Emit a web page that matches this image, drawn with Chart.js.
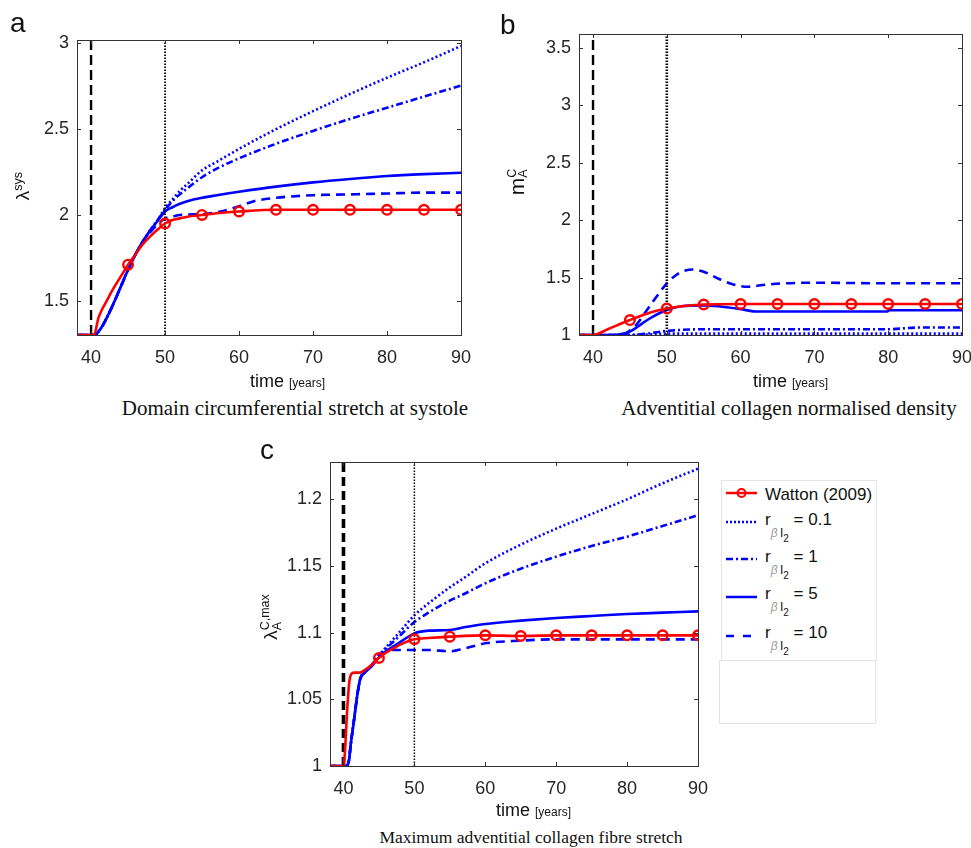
<!DOCTYPE html>
<html>
<head>
<meta charset="utf-8">
<script src="https://cdn.jsdelivr.net/npm/chart.js@4.4.1/dist/chart.umd.min.js"></script>
<style>
html,body{margin:0;padding:0;background:#fff;}
body{width:971px;height:848px;position:relative;overflow:hidden;font-family:"Liberation Sans",Arial,Helvetica,sans-serif;color:#111;}
canvas{position:absolute;}
.t{position:absolute;white-space:nowrap;line-height:1;}
.cap{font-family:"Liberation Serif","Times New Roman",serif;color:#111;text-align:center;width:500px;}
.rot{transform:translate(-50%,-50%) rotate(-90deg);transform-origin:50% 50%;}
.yrs{font-size:12px;}
.ss{display:inline-block;vertical-align:middle;line-height:0.95;font-size:12.5px;text-align:left;}
.ss span{display:block;}
.lg{position:absolute;white-space:nowrap;line-height:1;font-size:17px;color:#111;}
.sb{font-size:12px;vertical-align:-12px;}
.sb2{font-size:10px;vertical-align:-5px;}
.beta{color:#9a9a9a;font-style:italic;}
svg{position:absolute;}
</style>
</head>
<body>
<canvas id="ca" width="480" height="375" style="left:0;top:0"></canvas>
<canvas id="cb" width="481" height="375" style="left:490px;top:0"></canvas>
<canvas id="cc" width="460" height="386" style="left:250px;top:420px"></canvas>

<!-- panel letters -->
<div class="t" style="left:10px;top:9px;font-size:28px;">a</div>
<div class="t" style="left:500px;top:11px;font-size:28px;">b</div>
<div class="t" style="left:260px;top:436px;font-size:28px;">c</div>

<!-- y axis titles -->
<div class="t rot" style="left:22px;top:186px;font-size:19px;">λ<span style="font-size:12.5px;vertical-align:7px;">sys</span></div>
<div class="t rot" style="left:518px;top:182px;font-size:21px;">m<span class="ss"><span>C</span><span>A</span></span></div>
<div class="t rot" style="left:272px;top:617px;font-size:19px;">λ<span class="ss"><span>C,max</span><span>A</span></span></div>

<!-- x axis titles -->
<div class="t" style="left:250px;top:372px;font-size:18px;">time <span class="yrs">[years]</span></div>
<div class="t" style="left:753px;top:372px;font-size:18px;">time <span class="yrs">[years]</span></div>
<div class="t" style="left:496px;top:801px;font-size:18px;">time <span class="yrs">[years]</span></div>

<!-- captions -->
<div class="t cap" style="left:45px;top:398px;font-size:21px;">Domain circumferential stretch at systole</div>
<div class="t cap" style="left:539px;top:398px;font-size:21px;">Adventitial collagen normalised density</div>
<div class="t cap" style="left:281px;top:829px;font-size:17.5px;">Maximum adventitial collagen fibre stretch</div>

<!-- legend (panel c) -->
<div style="position:absolute;left:721px;top:480px;width:154px;height:179px;border:1px solid #e2e6e6;"></div>
<div style="position:absolute;left:719px;top:660px;width:155px;height:62px;border:1px solid #e2e6e6;"></div>
<svg style="left:726px;top:485px" width="32" height="16"><line x1="0" y1="8" x2="31" y2="8" stroke="#ff0000" stroke-width="2.5"/><circle cx="15.5" cy="8" r="4" fill="none" stroke="#ff0000" stroke-width="2"/></svg>
<svg style="left:726px;top:514px" width="32" height="16"><line x1="0" y1="8" x2="31" y2="8" stroke="#0000ff" stroke-width="2.5" stroke-dasharray="2 2"/></svg>
<svg style="left:726px;top:551px" width="32" height="16"><line x1="0" y1="8" x2="31" y2="8" stroke="#0000ff" stroke-width="2.5" stroke-dasharray="7 3 2 3"/></svg>
<svg style="left:726px;top:589px" width="32" height="16"><line x1="0" y1="8" x2="31" y2="8" stroke="#0000ff" stroke-width="2.5"/></svg>
<svg style="left:726px;top:628px" width="32" height="16"><line x1="0" y1="8" x2="25" y2="8" stroke="#0000ff" stroke-width="2.5" stroke-dasharray="8 9"/></svg>
<div class="lg" style="left:765px;top:486px;">Watton (2009)</div>
<div class="lg" style="left:765px;top:511px;">r<span class="sb"><span class="beta">β</span>&thinsp;I<span class="sb2">2</span></span> = 0.1</div>
<div class="lg" style="left:765px;top:548px;">r<span class="sb"><span class="beta">β</span>&thinsp;I<span class="sb2">2</span></span> = 1</div>
<div class="lg" style="left:765px;top:585px;">r<span class="sb"><span class="beta">β</span>&thinsp;I<span class="sb2">2</span></span> = 5</div>
<div class="lg" style="left:765px;top:624px;">r<span class="sb"><span class="beta">β</span>&thinsp;I<span class="sb2">2</span></span> = 10</div>

<script>
// ---------- shared axes ----------
const xTicks = [40, 50, 60, 70, 80, 90];
const xRange = [38.1, 90];
const markerYears = [45, 50, 55, 60, 65, 70, 75, 80, 85, 90];
const eventYears = [40, 50];

// ---------- panel a: domain circumferential stretch at systole ----------
const aYTicks = [1.5, 2, 2.5, 3];
const aYRange = [1.3, 3.02];
const aWattonT = [38, 40, 40.4, 41, 41.5, 42, 43, 44, 45, 46, 47, 48, 49, 50, 51, 52, 53, 55, 57, 60, 65, 70, 75, 80, 85, 90];
const aWattonV = [1.3, 1.3, 1.3, 1.40, 1.45, 1.49, 1.57, 1.64, 1.71, 1.77, 1.83, 1.875, 1.915, 1.95, 1.97, 1.98, 1.99, 2.0, 2.01, 2.02, 2.03, 2.03, 2.03, 2.03, 2.03, 2.03];
const aR01T = [38, 40.5, 41, 41.5, 42, 43, 44, 45, 46, 47, 48, 49, 50, 51, 52, 53, 55, 57, 60, 65, 70, 75, 80, 85, 90];
const aR01V = [1.3, 1.3, 1.32, 1.35, 1.39, 1.48, 1.58, 1.68, 1.77, 1.845, 1.91, 1.97, 2.04, 2.09, 2.14, 2.18, 2.26, 2.31, 2.385, 2.50, 2.605, 2.705, 2.80, 2.89, 2.985];
const aR1T = [38, 40.5, 41, 41.5, 42, 43, 44, 45, 46, 47, 48, 49, 50, 51, 52, 53, 55, 57, 60, 65, 70, 75, 80, 85, 90];
const aR1V = [1.3, 1.3, 1.32, 1.35, 1.39, 1.48, 1.58, 1.68, 1.77, 1.845, 1.91, 1.97, 2.03, 2.08, 2.12, 2.155, 2.22, 2.27, 2.33, 2.415, 2.49, 2.56, 2.625, 2.69, 2.754];
const aR5T = [38, 40.5, 41, 41.5, 42, 43, 44, 45, 46, 47, 48, 49, 50, 51, 52, 53, 55, 57, 60, 65, 70, 75, 80, 85, 90];
const aR5V = [1.3, 1.3, 1.32, 1.35, 1.39, 1.48, 1.58, 1.68, 1.77, 1.845, 1.91, 1.965, 2.02, 2.045, 2.065, 2.08, 2.10, 2.115, 2.135, 2.165, 2.19, 2.21, 2.227, 2.238, 2.246];
const aR10T = [38, 40.5, 41, 41.5, 42, 43, 44, 45, 46, 47, 48, 49, 50, 51, 52, 55, 57, 60, 62, 65, 70, 75, 80, 85, 90];
const aR10V = [1.3, 1.3, 1.32, 1.35, 1.39, 1.48, 1.58, 1.68, 1.77, 1.845, 1.9, 1.945, 1.98, 1.99, 2.0, 2.005, 2.015, 2.05, 2.08, 2.10, 2.115, 2.12, 2.125, 2.13, 2.13];

// ---------- panel b: adventitial collagen normalised density ----------
const bYTicks = [1, 1.5, 2, 2.5, 3, 3.5];
const bYRange = [1, 3.62];
const bWattonT = [38, 40, 42, 44, 45, 46, 48, 50, 52, 55, 60, 65, 70, 75, 80, 85, 90];
const bWattonV = [1, 1, 1.05, 1.105, 1.13, 1.155, 1.2, 1.23, 1.25, 1.265, 1.27, 1.27, 1.27, 1.27, 1.27, 1.27, 1.27];
const bR01T = [38, 45, 48, 50, 90];
const bR01V = [1, 1, 1.006, 1.012, 1.012];
const bR1T = [38, 45, 47, 50, 55, 80, 84, 90];
const bR1V = [1, 1, 1.01, 1.035, 1.05, 1.05, 1.065, 1.065];
const bR5T = [38, 43, 44, 45, 46, 47, 48, 50, 52, 55, 57, 60, 62, 70, 79.9, 80.1, 90];
const bR5V = [1, 1, 1.01, 1.03, 1.07, 1.115, 1.155, 1.217, 1.25, 1.258, 1.25, 1.225, 1.205, 1.205, 1.205, 1.215, 1.215];
const bR10T = [38, 44, 45, 46, 47, 48, 50, 51, 52, 53.5, 55, 57, 59, 61, 63, 66, 70, 80, 90];
const bR10V = [1, 1, 1.04, 1.1, 1.19, 1.28, 1.45, 1.51, 1.55, 1.57, 1.55, 1.49, 1.44, 1.42, 1.435, 1.45, 1.455, 1.45, 1.45];

// ---------- panel c: maximum adventitial collagen fibre stretch ----------
const cYTicks = [1, 1.05, 1.1, 1.15, 1.2];
const cYRange = [1, 1.228];
const cWattonT = [38, 40, 40.2, 40.5, 40.8, 41.1, 41.5, 42.3, 43, 44, 45, 46, 47, 48, 50, 52, 55, 60, 65, 70, 75, 80, 85, 90];
const cWattonV = [1, 1, 1.01, 1.04, 1.062, 1.069, 1.07, 1.07, 1.072, 1.076, 1.081, 1.085, 1.088, 1.091, 1.095, 1.096, 1.097, 1.098, 1.0975, 1.098, 1.098, 1.098, 1.098, 1.098];
const cR01T = [38, 40.4, 40.8, 41, 41.5, 42, 42.4, 43, 44, 45, 46, 47, 48, 50, 52, 55, 57, 60, 65, 70, 75, 80, 85, 90];
const cR01V = [1, 1, 1.005, 1.015, 1.035, 1.055, 1.066, 1.07, 1.076, 1.083, 1.089, 1.095, 1.101, 1.113, 1.122, 1.134, 1.141, 1.152, 1.166, 1.178, 1.189, 1.2, 1.212, 1.223];
const cR1T = [38, 40.4, 40.8, 41, 41.5, 42, 42.4, 43, 44, 45, 46, 47, 48, 50, 52, 55, 57, 60, 65, 70, 75, 80, 85, 90];
const cR1V = [1, 1, 1.005, 1.015, 1.035, 1.055, 1.066, 1.07, 1.076, 1.083, 1.088, 1.093, 1.098, 1.108, 1.115, 1.124, 1.129, 1.137, 1.148, 1.157, 1.165, 1.172, 1.18, 1.188];
const cR5T = [38, 40.4, 40.8, 41, 41.5, 42, 42.4, 43, 44, 45, 46, 47, 48, 50, 52, 55, 57, 60, 65, 70, 75, 80, 85, 90];
const cR5V = [1, 1, 1.005, 1.015, 1.035, 1.055, 1.066, 1.07, 1.075, 1.0815, 1.086, 1.0895, 1.093, 1.0995, 1.1015, 1.102, 1.104, 1.1065, 1.109, 1.111, 1.1125, 1.114, 1.115, 1.116];
const cR10T = [38, 40.4, 40.8, 41, 41.5, 42, 42.4, 43, 44, 45, 46, 47, 50, 52, 55, 57, 60, 65, 70, 80, 90];
const cR10V = [1, 1, 1.005, 1.015, 1.035, 1.055, 1.066, 1.07, 1.076, 1.0815, 1.086, 1.087, 1.087, 1.087, 1.086, 1.088, 1.092, 1.094, 1.095, 1.095, 1.095];

// ---------- helpers ----------
const RED = '#ff0000', BLUE = '#0000ff', BLACK = '#000000';
const pts = (t, v) => t.map((x, i) => ({x: x, y: v[i]}));
const vline = (xv, yr) => [{x: xv, y: yr[0]}, {x: xv, y: yr[1]}];

function wattonDs(t, v) {
  return {data: pts(t, v), borderColor: RED, borderWidth: 2.6,
    pointRadius: c => (c.raw && markerYears.includes(c.raw.x)) ? 4.8 : 0,
    pointBorderColor: RED, pointBackgroundColor: 'rgba(0,0,0,0)', pointBorderWidth: 2.4,
    pointHoverRadius: 0, cubicInterpolationMode: 'monotone'};
}
function blueDs(t, v, dash) {
  return {data: pts(t, v), borderColor: BLUE, borderWidth: 2.6, borderDash: dash,
    pointRadius: 0, cubicInterpolationMode: 'monotone'};
}
function eventDs(i, yr, w, dash) {
  return {data: vline(eventYears[i], yr), borderColor: BLACK, borderWidth: w, borderDash: dash, pointRadius: 0};
}

const framePlugin = {
  id: 'frame',
  afterDatasetsDraw(chart) {
    const {ctx, chartArea: a, scales: {x, y}} = chart;
    ctx.save();
    ctx.strokeStyle = '#333333';
    ctx.lineWidth = 1;
    ctx.setLineDash([]);
    const L = 4;
    ctx.beginPath();
    x.ticks.forEach(t => { const p = Math.round(x.getPixelForValue(t.value)) + 0.5;
      ctx.moveTo(p, a.bottom); ctx.lineTo(p, a.bottom - L); ctx.moveTo(p, a.top); ctx.lineTo(p, a.top + L); });
    y.ticks.forEach(t => { const p = Math.round(y.getPixelForValue(t.value)) + 0.5;
      ctx.moveTo(a.left, p); ctx.lineTo(a.left + L, p); ctx.moveTo(a.right, p); ctx.lineTo(a.right - L, p); });
    ctx.stroke();
    ctx.strokeRect(Math.round(a.left) + 0.5, Math.round(a.top) + 0.5, Math.round(a.right - a.left), Math.round(a.bottom - a.top));
    ctx.restore();
  }
};

const tickFont = {family: '"Liberation Sans", Arial, sans-serif', size: 18};

function makeChart(id, datasets, yTicks, yRange, yWidth, pad) {
  return new Chart(document.getElementById(id), {
    type: 'line',
    data: {datasets: datasets},
    options: {
      responsive: false, animation: false, devicePixelRatio: 1,
      layout: {padding: pad},
      plugins: {legend: {display: false}, tooltip: {enabled: false}},
      elements: {line: {borderCapStyle: 'butt', fill: false}},
      scales: {
        x: {type: 'linear', min: xRange[0], max: xRange[1],
          afterBuildTicks: s => { s.ticks = xTicks.map(v => ({value: v})); },
          afterFit: s => { s.height = 40; s.paddingLeft = 0; s.paddingRight = 0; },
          grid: {display: false, drawTicks: false}, border: {display: false},
          ticks: {padding: 12, font: tickFont, color: '#262626', autoSkip: false, maxRotation: 0, callback: v => String(v)}},
        y: {type: 'linear', min: yRange[0], max: yRange[1],
          afterBuildTicks: s => { s.ticks = yTicks.map(v => ({value: v})); },
          afterFit: s => { s.width = yWidth; s.paddingTop = 0; s.paddingBottom = 0; },
          grid: {display: false, drawTicks: false}, border: {display: false},
          ticks: {padding: 8, font: tickFont, color: '#262626', autoSkip: false, callback: v => String(v)}}
      }
    },
    plugins: [framePlugin]
  });
}

makeChart('ca', [
  wattonDs(aWattonT, aWattonV),
  eventDs(0, aYRange, 2.4, [10, 5]),
  eventDs(1, aYRange, 1.8, [1.5, 1.5]),
  blueDs(aR01T, aR01V, [2, 2.5]),
  blueDs(aR1T, aR1V, [7, 3, 2, 3]),
  blueDs(aR5T, aR5V, []),
  blueDs(aR10T, aR10V, [9, 6])
], aYTicks, aYRange, 77, {left: 0, top: 40, right: 19, bottom: 0});

makeChart('cb', [
  wattonDs(bWattonT, bWattonV),
  eventDs(0, bYRange, 2.4, [10, 5]),
  eventDs(1, bYRange, 2.6, [1.5, 1.5]),
  blueDs(bR01T, bR01V, [2, 2.5]),
  blueDs(bR1T, bR1V, [7, 3, 2, 3]),
  blueDs(bR5T, bR5V, []),
  blueDs(bR10T, bR10V, [9, 6])
], bYTicks, bYRange, 89, {left: 0, top: 34, right: 9, bottom: 0});

makeChart('cc', [
  wattonDs(cWattonT, cWattonV),
  eventDs(0, cYRange, 3.6, [9, 5]),
  eventDs(1, cYRange, 1.5, [1.5, 1.5]),
  blueDs(cR01T, cR01V, [2, 2.5]),
  blueDs(cR1T, cR1V, [7, 3, 2, 3]),
  blueDs(cR5T, cR5V, []),
  blueDs(cR10T, cR10V, [9, 6])
], cYTicks, cYRange, 80, {left: 0, top: 42, right: 12, bottom: 0});
</script>
</body>
</html>
